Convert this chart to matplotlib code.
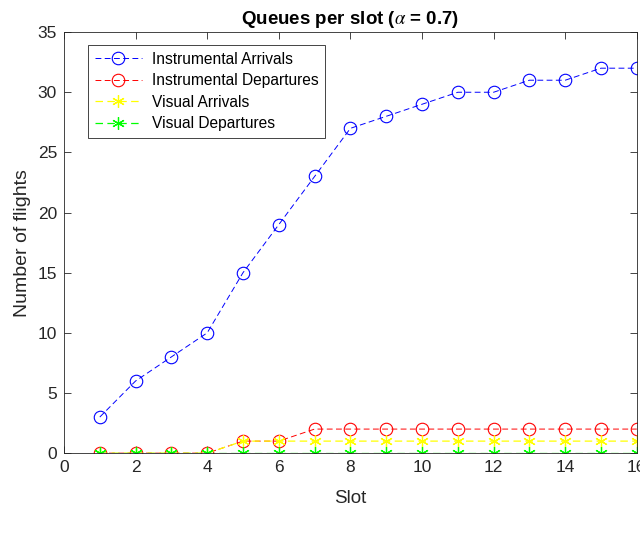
import matplotlib
matplotlib.use("Agg")
import matplotlib.pyplot as plt

plt.rcParams.update({"font.family": ["Liberation Sans", "DejaVu Sans"],
                     "mathtext.fontset": "stix"})

slots = list(range(1, 17))
instr_arr = [3, 6, 8, 10, 15, 19, 23, 27, 28, 29, 30, 30, 31, 31, 32, 32]
instr_dep = [0, 0, 0, 0, 1, 1, 2, 2, 2, 2, 2, 2, 2, 2, 2, 2]
vis_arr = [0, 0, 0, 0, 1, 1, 1, 1, 1, 1, 1, 1, 1, 1, 1, 1]
vis_dep = [0] * 16

INK = "#262626"
AST = (6, 2, 0)  # matlab-like asterisk
DASH = (0, (6, 3.5))

fig = plt.figure(figsize=(6.4, 5.35), dpi=100)
ax = fig.add_axes([0.1, 0.153, 0.895, 0.787])

ax.plot(slots, instr_arr, color="#0000ff", ls=DASH, lw=0.7, marker="o", ms=9, mfc="none", mew=0.8, label="Instrumental Arrivals")
ax.plot(slots, instr_dep, color="#ff0000", ls=DASH, lw=0.7, marker="o", ms=9, mfc="none", mew=0.8, label="Instrumental Departures")
ax.plot(slots, vis_arr, color="#ffff00", ls=DASH, lw=0.9, marker=AST, ms=9, mew=0.9, label="Visual Arrivals")
ax.plot(slots, vis_dep, color="#00ff00", ls=DASH, lw=0.9, marker=AST, ms=9, mew=0.9, label="Visual Departures")

ax.set_xlim(0, 16)
ax.set_ylim(0, 35)
ax.set_xticks(range(0, 17, 2))
ax.set_yticks(range(0, 36, 5))
ax.tick_params(direction="in", top=True, right=True, labelsize=12.5, colors=INK, length=5, width=0.6, pad=5)
for sp in ax.spines.values():
    sp.set_linewidth(0.6)
    sp.set_color(INK)

ax.set_xlabel("Slot", fontsize=13.5, color=INK, labelpad=11)
ax.set_ylabel("Number of flights", fontsize=14, color=INK, labelpad=5)
ax.set_title(r"Queues per slot ($\alpha$ = 0.7)", fontsize=13.5, weight="bold", color="black", pad=6)

leg = ax.legend(loc="upper left", bbox_to_anchor=(0.042, 0.97), borderaxespad=0, fontsize=11.2,
                fancybox=False, edgecolor=INK, framealpha=1, borderpad=0.45, labelspacing=0.42,
                handlelength=3.0, handletextpad=0.65)
leg.get_frame().set_linewidth(0.6)

fig.savefig("out.png", dpi=100)
